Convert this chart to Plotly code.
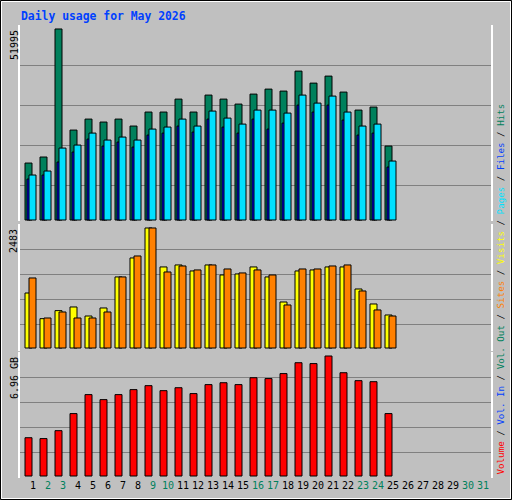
import plotly.graph_objects as go

days = list(range(1, 32))
data_days = list(range(1, 26))
hits = [15500,17140,51995,24480,27470,26660,27470,25570,29380,29380,32910,29380,34000,32910,31550,34270,35630,35090,40530,37260,39170,34820,29920,30740,20130]
files = [11150,12240,15780,18500,22030,20130,21220,19860,23120,23660,25570,23940,27470,25300,23660,27470,24750,26380,31280,29380,31280,27200,23120,23660,14420]
pages = [12240,13330,19580,20400,23660,21760,22580,21760,24750,25300,27470,25570,29650,27740,26110,29920,29920,29100,34000,31820,33730,29380,25570,26110,16050]
visits = [1138,607,773,849,662,828,1470,1863,2483,1677,1718,1594,1718,1511,1532,1677,1470,952,1594,1615,1677,1677,1221,911,683]
sites = [1449,621,745,621,621,745,1470,1904,2483,1573,1697,1615,1718,1635,1553,1615,1511,890,1635,1635,1697,1718,1180,787,662]
volume = [2.22,2.17,2.63,3.62,4.72,4.43,4.72,5.01,5.24,4.95,5.12,4.78,5.30,5.41,5.30,5.70,5.65,5.94,6.57,6.52,6.96,5.99,5.53,5.47,3.62]
weekend = {2,3,9,10,16,17,23,24,30,31}
max_hits_label = "51995"
max_visits_label = "2483"
max_vol_label = "6.96 GB"
title = "Daily usage for May 2026"

W, H = 512, 500
def py(p):
    return 1 - p / H

S = 15.0
BL = dict(color="black", width=1)
fig = go.Figure()

def bar(y, color, off, w, ax):
    fig.add_trace(go.Bar(x=data_days, y=y, offset=off / S, width=w / S,
                         marker=dict(color=color, line=BL), xaxis="x", yaxis=ax,
                         showlegend=False, hoverinfo="skip"))

bar(hits, "#00805c", 0, 7, "y")
bar(files, "#0000ff", 2, 3, "y")
bar(pages, "#00e0ff", 4, 7, "y")
bar(visits, "#ffff00", 0, 7, "y2")
bar(sites, "#ff8000", 4, 7, "y2")
bar(volume, "#ff0000", 0, 7, "y3")

xr = [(20 - 25) / S + 1, (491 - 25) / S + 1]
ticktext = [f"<span style='color:{'#00805c' if d in weekend else 'black'}'>{d}</span>" for d in days]
fig.update_layout(
    width=W, height=H, margin=dict(l=0, r=0, t=0, b=0, autoexpand=False),
    paper_bgcolor="#c0c0c0", plot_bgcolor="#c0c0c0", barmode="overlay",
    font=dict(family="DejaVu Sans Mono", size=10, color="black"),
    xaxis=dict(domain=[20 / W, 491 / W], range=xr, showgrid=False, zeroline=False,
               tickvals=[d + 8 / S for d in days], ticktext=ticktext, ticks="",
               showline=False, anchor="y3", tickfont=dict(size=10), automargin=False),
)

def yax(top, bottom, base, scale, grids):
    return dict(domain=[py(bottom), py(top)], range=[-(bottom - base) * scale, (base - top) * scale],
                tickvals=[(base - g) * scale for g in grids], showticklabels=False, ticks="",
                gridcolor="#808080", gridwidth=1, zeroline=False, showline=True,
                linecolor="white", linewidth=2, mirror=True, anchor="x", automargin=False)

fig.update_layout(
    yaxis=yax(25, 221, 220, 272.2, [65, 105, 145, 185]),
    yaxis2=yax(224, 351, 348, 20.69, [249, 274, 299, 324]),
    yaxis3=yax(352, 478, 476, 0.058, [377, 402, 427, 452]),
)

ann = [
    dict(text=f"<b>{title}</b>", x=19 / W, y=py(7), xanchor="left", yanchor="top",
         font=dict(size=11.4, color="#0040ff")),
    dict(text=max_hits_label, x=14 / W, y=py(28), textangle=-90, xanchor="center", yanchor="top"),
    dict(text=max_visits_label, x=14 / W, y=py(227), textangle=-90, xanchor="center", yanchor="top"),
    dict(text=max_vol_label, x=14 / W, y=py(355), textangle=-90, xanchor="center", yanchor="top"),
]
parts = [("Volume", "#ff0000"), ("Vol. In", "#0040ff"), ("Vol. Out", "#00805c"), ("Sites", "#ff8000"),
         ("Visits", "#ffff00"), ("Pages", "#00e0ff"), ("Files", "#0040ff"), ("Hits", "#00805c")]
leg = " / ".join(f"<span style='color:{c}'>{t}</span>" for t, c in parts)
ann.append(dict(text=leg, x=500 / W, y=py(477), textangle=-90, xanchor="center", yanchor="bottom",
                font=dict(size=9.2)))
for a in ann:
    a.update(xref="paper", yref="paper", showarrow=False)
fig.update_layout(annotations=ann, shapes=[
    dict(type="rect", xref="paper", yref="paper", x0=0.5 / W, x1=1 - 0.5 / W, y0=0.5 / H, y1=1 - 0.5 / H,
         line=dict(color="black", width=1)),
    dict(type="rect", xref="paper", yref="paper", x0=1.5 / W, x1=1 - 1.5 / W, y0=1.5 / H, y1=1 - 1.5 / H,
         line=dict(color="white", width=1)),
])
fig.write_html("out.html", config={"displayModeBar": False})
with open("out.html", encoding="utf-8") as f:
    html = f.read()
html = html.replace("<head>", "<head><style>html,body{margin:0;padding:0;overflow:hidden}</style>", 1)
with open("out.html", "w", encoding="utf-8") as f:
    f.write(html)
